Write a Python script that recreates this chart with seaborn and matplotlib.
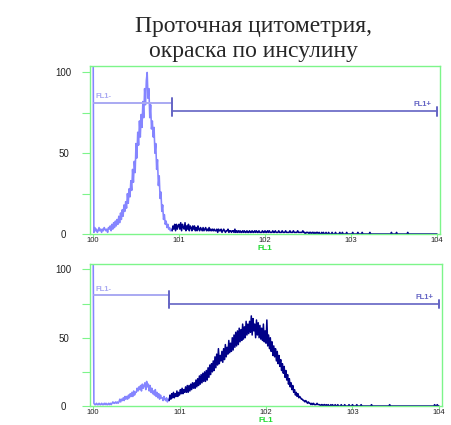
import numpy as np
import pandas as pd
import matplotlib
matplotlib.use('Agg')
import matplotlib.pyplot as plt
import seaborn as sns

# channel width in decades (log10 FL1)
bin_step = 0.01

# top histogram: counts per channel, 0 .. 4 decades
top_counts = [
    140, 1, 4, 2, 3, 1, 2, 4, 2, 3,
    1, 3, 2, 4, 3, 2, 3, 1, 4, 3,
    5, 2, 6, 3, 7, 4, 8, 5, 9, 6,
    11, 7, 13, 9, 15, 11, 18, 14, 20, 16,
    25, 19, 28, 23, 33, 27, 40, 32, 45, 38,
    56, 47, 63, 55, 70, 60, 74, 66, 82, 72,
    90, 80, 95, 100, 84, 90, 72, 80, 65, 70,
    60, 66, 50, 56, 40, 46, 30, 36, 22, 26,
    14, 18, 9, 12, 6, 8, 4, 6, 3, 4,
    2, 3, 2, 5, 3, 6, 2, 6, 3, 5,
    6, 3, 7, 2, 6, 4, 3, 7, 2, 5,
    3, 6, 2, 5, 4, 2, 5, 3, 5, 2,
    4, 2, 5, 3, 2, 4, 3, 2, 4, 2,
    3, 4, 2, 3, 2, 4, 2, 3, 2, 3,
    2, 3, 2, 2, 3, 1, 3, 2, 2, 3,
    1, 2, 3, 2, 1, 2, 2, 3, 1, 2,
    2, 1, 2, 2, 1, 3, 1, 2, 1, 2,
    1, 2, 1, 1, 2, 1, 2, 1, 1, 2,
    1, 1, 2, 1, 1, 2, 1, 1, 2, 1,
    2, 1, 1, 2, 1, 1, 1, 2, 1, 1,
    2, 1, 1, 2, 1, 2, 1, 1, 1, 2,
    1, 1, 2, 1, 1, 1, 2, 1, 1, 1,
    2, 1, 1, 1, 2, 1, 1, 1, 1, 2,
    1, 1, 1, 2, 1, 1, 1, 1, 2, 1,
    1, 1, 1, 1, 2, 1, 1, 0, 1, 1,
    1, 0, 1, 1, 0, 1, 1, 0, 1, 0,
    1, 1, 0, 1, 0, 0, 1, 0, 1, 0,
    0, 1, 0, 0, 1, 0, 0, 0, 1, 0,
    0, 0, 1, 0, 0, 0, 0, 1, 0, 0,
    1, 0, 0, 0, 0, 1, 0, 0, 0, 0,
    0, 0, 1, 0, 0, 0, 0, 0, 1, 0,
    0, 0, 0, 1, 0, 0, 0, 0, 0, 0,
    0, 0, 1, 0, 0, 0, 0, 0, 0, 0,
    0, 0, 0, 0, 0, 0, 0, 0, 0, 0,
    0, 0, 0, 0, 0, 0, 0, 1, 0, 0,
    0, 0, 0, 1, 0, 0, 0, 0, 0, 0,
    0, 0, 0, 0, 0, 0, 1, 0, 0, 0,
    0, 0, 0, 0, 0, 0, 0, 0, 0, 0,
    0, 0, 0, 0, 0, 0, 0, 0, 0, 0,
    0, 0, 0, 0, 0, 0, 0, 0, 0, 0,
    0,
]

# bottom histogram
bottom_counts = [
    140, 2, 1, 1, 2, 1, 1, 2, 1, 1,
    2, 1, 1, 2, 1, 2, 1, 1, 2, 1,
    2, 1, 2, 3, 2, 2, 3, 2, 3, 2,
    3, 5, 3, 5, 4, 6, 4, 7, 5, 7,
    5, 8, 6, 9, 7, 10, 7, 11, 8, 10,
    10, 13, 11, 14, 12, 15, 11, 16, 13, 15,
    17, 12, 18, 14, 16, 11, 15, 10, 13, 9,
    11, 8, 12, 7, 10, 6, 9, 5, 8, 6,
    6, 4, 7, 5, 4, 6, 3, 5, 4, 8,
    5, 9, 6, 10, 6, 9, 7, 11, 7, 10,
    8, 12, 9, 13, 9, 12, 10, 14, 10, 15,
    10, 15, 11, 16, 12, 17, 13, 17, 13, 19,
    14, 20, 15, 22, 16, 23, 17, 24, 18, 25,
    18, 26, 19, 28, 21, 30, 23, 31, 25, 33,
    26, 36, 28, 38, 30, 42, 31, 37, 33, 40,
    32, 42, 34, 45, 36, 43, 38, 48, 39, 46,
    40, 50, 41, 52, 43, 54, 44, 55, 45, 57,
    47, 56, 48, 60, 49, 58, 50, 62, 52, 60,
    53, 62, 54, 66, 52, 64, 55, 60, 50, 63,
    52, 61, 50, 59, 49, 57, 48, 60, 47, 55,
    46, 63, 44, 52, 42, 50, 40, 47, 37, 44,
    36, 42, 33, 40, 31, 37, 29, 34, 26, 31,
    24, 29, 21, 26, 19, 23, 16, 20, 14, 17,
    12, 15, 10, 12, 8, 10, 7, 9, 6, 7,
    6, 5, 5, 4, 4, 3, 4, 3, 2, 3,
    2, 2, 1, 2, 1, 2, 1, 1, 1, 2,
    1, 1, 1, 0, 1, 1, 0, 1, 1, 0,
    1, 0, 1, 0, 0, 1, 0, 1, 0, 0,
    1, 0, 0, 1, 0, 0, 0, 1, 0, 0,
    0, 1, 0, 0, 0, 0, 1, 0, 0, 0,
    1, 0, 0, 0, 0, 1, 0, 0, 0, 0,
    1, 0, 0, 0, 0, 0, 0, 0, 0, 0,
    0, 0, 1, 0, 0, 0, 0, 0, 0, 0,
    0, 0, 0, 0, 0, 0, 0, 0, 0, 0,
    0, 0, 0, 1, 0, 0, 0, 0, 0, 0,
    0, 0, 0, 0, 0, 0, 0, 0, 0, 0,
    0, 0, 0, 0, 0, 0, 0, 0, 0, 0,
    0, 0, 0, 0, 0, 0, 0, 0, 0, 0,
    0, 0, 0, 0, 0, 0, 0, 0, 0, 0,
    0, 0, 0, 0, 0, 1, 0, 0, 1, 0,
    0,
]

# gate boundary (channel where FL1+ begins) and gate marker levels
top_split = 92
bottom_split = 88
gate_neg_level = [81, 81]
gate_pos_level = [76, 75]

x_ticks = [0, 1, 2, 3, 4]
x_labels = ['100', '101', '102', '103', '104']
y_ticks = [0, 25, 50, 75, 100]
y_labels = ['0', '', '50', '', '100']

title = 'Проточная цитометрия,\nокраска по инсулину'

green = '#7df58a'
light = '#8585ff'
dark = '#000088'
gate_light = '#a9a9f2'
gate_dark = '#6464c4'

sns.set_style('white')
plt.rcParams['font.family'] = ['Liberation Sans', 'DejaVu Sans']

fig = plt.figure(figsize=(4.52, 4.25), dpi=100)
ax_top = fig.add_axes([90 / 452, 1 - 234 / 425, 350 / 452, 168 / 425])
ax_bot = fig.add_axes([90 / 452, 1 - 406 / 425, 352 / 452, 142 / 425])


def draw_panel(ax, counts, split, neg_lvl, pos_lvl):
    df = pd.DataFrame({'fl1': np.arange(len(counts)) * bin_step, 'count': counts})
    neg = df.iloc[:split + 1]
    pos = df.iloc[split:]
    sns.lineplot(data=neg, x='fl1', y='count', ax=ax, color=light, lw=1.15,
                 estimator=None, sort=False)
    sns.lineplot(data=pos, x='fl1', y='count', ax=ax, color=dark, lw=1.1,
                 estimator=None, sort=False)

    x0 = df['fl1'].iloc[1]
    xs = df['fl1'].iloc[split]
    xe = 4.0
    # FL1- / FL1+ gate markers
    ax.plot([x0, xs], [neg_lvl, neg_lvl], color=gate_light, lw=1.4)
    ax.plot([xs, xe], [pos_lvl, pos_lvl], color=gate_dark, lw=1.2)
    ax.plot([xs, xs], [pos_lvl - 3, neg_lvl + 3], color=gate_dark, lw=1.4)
    ax.plot([xe, xe], [pos_lvl - 3, pos_lvl + 2.5], color=gate_dark, lw=1.4)
    ax.text(x0 + 0.02, neg_lvl + 2, 'FL1-', color=gate_light, fontsize=5.5,
            fontweight='bold', va='bottom', ha='left')
    ax.text(xe - 0.06, pos_lvl + 2, 'FL1+', color=gate_dark, fontsize=5.5,
            fontweight='bold', va='bottom', ha='right')

    ax.set_xlim(-0.035, 4.035)
    ax.set_ylim(0, 104)
    ax.set_xticks(x_ticks)
    ax.set_xticklabels(x_labels)
    ax.set_yticks(y_ticks)
    ax.set_yticklabels(y_labels)
    for lab in ax.get_yticklabels():
        lab.set_horizontalalignment('center')
    ax.tick_params(axis='y', direction='out', length=6, width=0.8, color=green,
                   pad=13, labelsize=7, labelcolor='#222222', left=True)
    ax.tick_params(axis='x', direction='out', length=2, width=0.8, color=green,
                   pad=0.5, labelsize=5.5, labelcolor='#222222', bottom=True)
    ax.set_xlabel('FL1', color='#22dd33', fontsize=6, fontweight='bold', labelpad=0.5)
    ax.set_ylabel('')
    for sp in ax.spines.values():
        sp.set_color(green)
        sp.set_linewidth(1.0)
        sp.set_visible(True)
        sp.set_zorder(3)


draw_panel(ax_top, top_counts, top_split, gate_neg_level[0], gate_pos_level[0])
draw_panel(ax_bot, bottom_counts, bottom_split, gate_neg_level[1], gate_pos_level[1])

fig.text(254 / 452, 1 - 39 / 425, title, ha='center', va='center', fontsize=17,
         family='Liberation Serif', linespacing=1.2)

fig.savefig('out.png', dpi=100)
